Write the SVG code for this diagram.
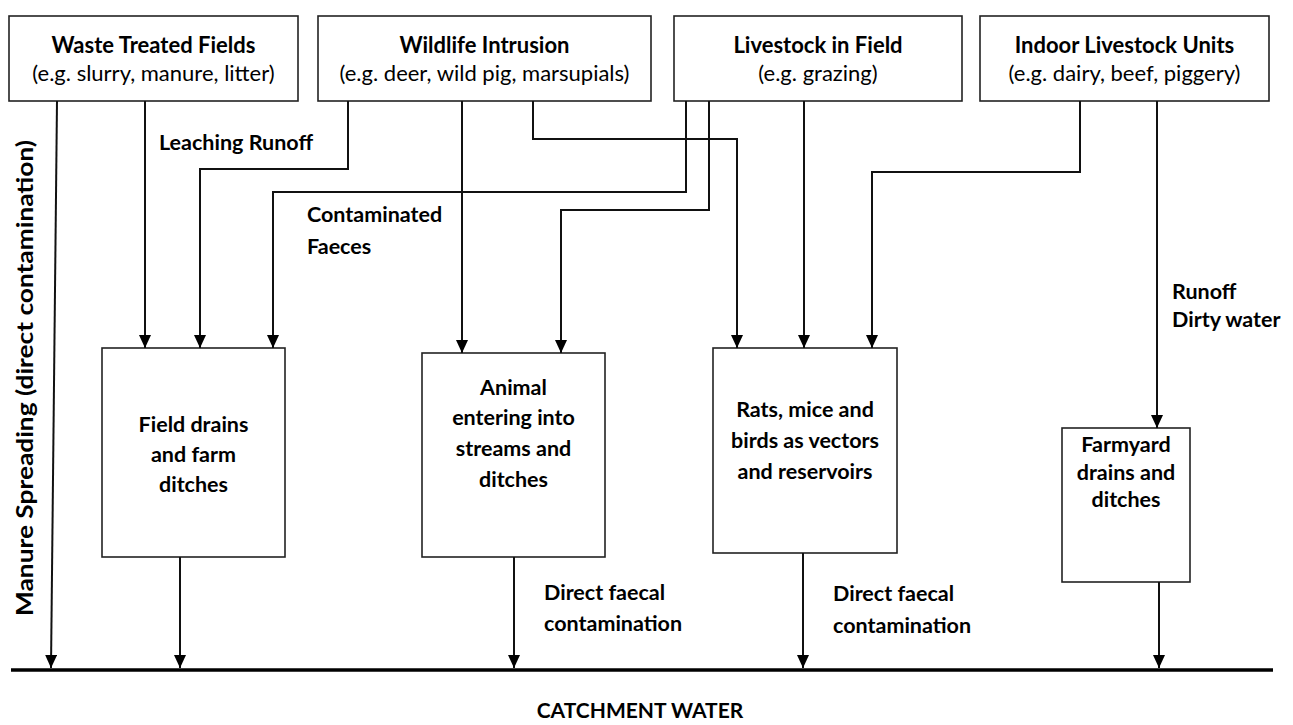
<svg xmlns="http://www.w3.org/2000/svg" width="1293" height="725" viewBox="0 0 1293 725">
<style>
.box{fill:#fff;stroke:#222;stroke-width:1.6}
.t{font-family:Lato,"Open Sans",sans-serif;font-size:22px;font-weight:bold;fill:#000;text-anchor:middle}
.s{font-family:Lato,"Open Sans",sans-serif;font-size:22px;fill:#000;text-anchor:middle}
.b{font-family:Lato,"Open Sans",sans-serif;font-size:21.5px;font-weight:bold;fill:#000;text-anchor:middle}
.l{font-family:Lato,"Open Sans",sans-serif;font-size:21.5px;font-weight:bold;fill:#000}
.c{fill:none;stroke:#111;stroke-width:2;marker-end:url(#ah)}
</style>
<defs>
<marker id="ah" markerUnits="userSpaceOnUse" markerWidth="14" markerHeight="12" refX="13" refY="6" orient="auto">
<path d="M0,0 L13,6 L0,12 z" fill="#000"/>
</marker>
</defs>
<rect width="1293" height="725" fill="#fff"/>
<g id="waste"><rect class="box" x="9" y="16" width="289" height="85"/><text class="t" x="153.5" y="53">Waste Treated Fields</text><text class="s" x="153.5" y="81">(e.g. slurry, manure, litter)</text></g>
<g id="wildlife"><rect class="box" x="318" y="16" width="333" height="85"/><text class="t" x="484.5" y="53">Wildlife Intrusion</text><text class="s" x="484.5" y="81">(e.g. deer, wild pig, marsupials)</text></g>
<g id="livestock"><rect class="box" x="674" y="16" width="288" height="85"/><text class="t" x="818" y="53">Livestock in Field</text><text class="s" x="818" y="81">(e.g. grazing)</text></g>
<g id="indoor"><rect class="box" x="980" y="16" width="289" height="85"/><text class="t" x="1124.5" y="53">Indoor Livestock Units</text><text class="s" x="1124.5" y="81">(e.g. dairy, beef, piggery)</text></g>
<g id="fielddrains"><rect class="box" x="102" y="348" width="183" height="209"/><text class="b" x="193.5" y="432">Field drains</text><text class="b" x="193.5" y="462">and farm</text><text class="b" x="193.5" y="492">ditches</text></g>
<g id="animal"><rect class="box" x="422" y="353" width="183" height="204"/><text class="b" x="513.5" y="395">Animal</text><text class="b" x="513.5" y="425">entering into</text><text class="b" x="513.5" y="456">streams and</text><text class="b" x="513.5" y="487">ditches</text></g>
<g id="rats"><rect class="box" x="713" y="348" width="184" height="205"/><text class="b" x="805" y="417">Rats, mice and</text><text class="b" x="805" y="448">birds as vectors</text><text class="b" x="805" y="479">and reservoirs</text></g>
<g id="farmyard"><rect class="box" x="1062" y="428" width="128" height="154"/><text class="b" x="1126" y="452">Farmyard</text><text class="b" x="1126" y="480">drains and</text><text class="b" x="1126" y="507">ditches</text></g>
<g id="catchment"><line x1="11" y1="670" x2="1273" y2="670" stroke="#000" stroke-width="3.5"/><text class="t" x="640" y="718" style="font-size:21px">CATCHMENT WATER</text></g>
<g id="connectors">
<path class="c" d="M57,101 L51,668"/>
<path class="c" d="M145,101 V348"/>
<path class="c" d="M348,101 V169 H200 V348"/>
<path class="c" d="M686,101 V192 H273 V348"/>
<path class="c" d="M462,101 V353"/>
<path class="c" d="M709,101 V210 H561 V353"/>
<path class="c" d="M533,101 V139 H737 V348"/>
<path class="c" d="M804,101 V348"/>
<path class="c" d="M1080,101 V172 H872 V348"/>
<path class="c" d="M1157,101 V428"/>
<path class="c" d="M180,557 V668"/>
<path class="c" d="M514,557 V668"/>
<path class="c" d="M803,553 V668"/>
<path class="c" d="M1159,582 V668"/>
</g>
<g id="labels">
<text class="l" x="159" y="150">Leaching Runoff</text>
<text class="l" x="307" y="222">Contaminated</text>
<text class="l" x="307" y="254">Faeces</text>
<text class="l" x="1172" y="299">Runoff</text>
<text class="l" x="1172" y="327">Dirty water</text>
<text class="l" x="544" y="600">Direct faecal</text>
<text class="l" x="544" y="631">contamination</text>
<text class="l" x="833" y="601">Direct faecal</text>
<text class="l" x="833" y="633">contamination</text>
<text class="t" x="0" y="0" transform="translate(33,378) rotate(-90)" style="font-size:23px" textLength="476" lengthAdjust="spacingAndGlyphs">Manure Spreading (direct contamination)</text>
</g>
</svg>
